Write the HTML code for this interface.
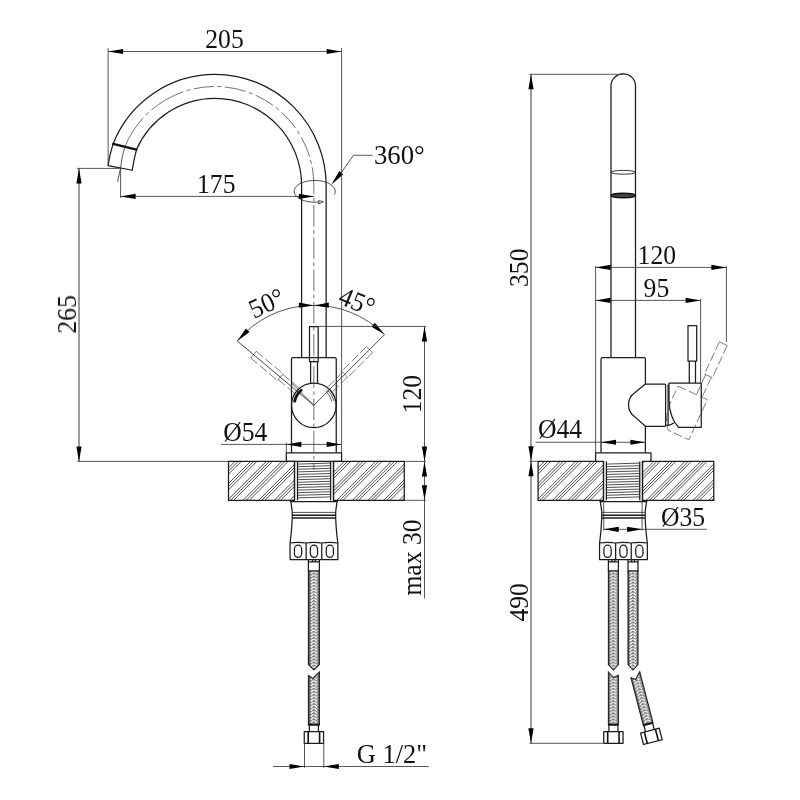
<!DOCTYPE html>
<html><head><meta charset="utf-8"><title>Faucet dimensions</title>
<style>
html,body{margin:0;padding:0;background:#fff;}
svg{display:block;}
text{font-family:"Liberation Serif",serif;fill:#111;}
.o{stroke:#1c1c1c;stroke-width:1.25;fill:none;stroke-linecap:butt;stroke-linejoin:round;}
.of{stroke:#1c1c1c;stroke-width:1.25;fill:#fff;stroke-linejoin:round;}
.t{stroke:#111;stroke-width:2.2;fill:none;stroke-linecap:round;}
.d{stroke:#3a3a3a;stroke-width:0.85;fill:none;}
.dg{stroke:#000;stroke-opacity:0.78;stroke-width:1;fill:none;}
.c{stroke:#333;stroke-width:0.7;fill:none;stroke-dasharray:21.5 3.5 3.75 3.5;}
.g{stroke:#484848;stroke-width:0.65;fill:none;stroke-dasharray:9 3;}
.n2{stroke:#484848;stroke-width:0.65;fill:none;}
.n{stroke:#2a2a2a;stroke-width:0.8;fill:none;}
.h{stroke:#222;stroke-width:0.8;fill:none;}
.th{stroke:#3c3c3c;stroke-width:0.9;fill:none;}
.a{fill:#000;stroke:none;}
</style></head><body>
<svg width="800" height="800" viewBox="0 0 800 800">
<rect width="800" height="800" fill="#fff"/>
<defs>
<pattern id="br" patternUnits="userSpaceOnUse" x="-6" y="0" width="12" height="3.07"><rect width="12" height="3.07" fill="#787878"/><rect width="2.0" height="3.07" fill="#5a5a5a"/><rect x="10.4" width="1.6" height="3.07" fill="#5a5a5a"/><path d="M2.7 2.75L5.6 0.35M2.7 5.82L5.6 3.42M2.7 -0.32L5.6 -2.72M6.4 0.35L9.1 2.75M6.4 3.42L9.1 5.82M6.4 -2.72L9.1 -0.32" stroke="#fff" stroke-width="1.4" fill="none"/><circle cx="9.9" cy="0.9" r="0.6" fill="#fff"/></pattern>
</defs>
<clipPath id="h1"><rect x="228.5" y="461.4" width="66" height="38.9"/></clipPath>
<path class="h" clip-path="url(#h1)" d="M196.1 500.3L235 461.4M199.23 500.3L238.13 461.4M202.36 500.3L241.26 461.4M211.73 500.3L250.63 461.4M214.86 500.3L253.76 461.4M217.99 500.3L256.89 461.4M227.36 500.3L266.26 461.4M230.49 500.3L269.39 461.4M233.62 500.3L272.52 461.4M242.99 500.3L281.89 461.4M246.12 500.3L285.02 461.4M249.25 500.3L288.15 461.4M258.62 500.3L297.52 461.4M261.75 500.3L300.65 461.4M264.88 500.3L303.78 461.4M274.25 500.3L313.15 461.4M277.38 500.3L316.28 461.4M280.51 500.3L319.41 461.4M289.88 500.3L328.78 461.4M293.01 500.3L331.91 461.4"/>
<clipPath id="h2"><rect x="333.5" y="461.4" width="70.8" height="38.9"/></clipPath>
<path class="h" clip-path="url(#h2)" d="M296.14 500.3L335.04 461.4M305.51 500.3L344.41 461.4M308.64 500.3L347.54 461.4M311.77 500.3L350.67 461.4M321.14 500.3L360.04 461.4M324.27 500.3L363.17 461.4M327.4 500.3L366.3 461.4M336.77 500.3L375.67 461.4M339.9 500.3L378.8 461.4M343.03 500.3L381.93 461.4M352.4 500.3L391.3 461.4M355.53 500.3L394.43 461.4M358.66 500.3L397.56 461.4M368.03 500.3L406.93 461.4M371.16 500.3L410.06 461.4M374.29 500.3L413.19 461.4M383.66 500.3L422.56 461.4M386.79 500.3L425.69 461.4M389.92 500.3L428.82 461.4M399.29 500.3L438.19 461.4M402.42 500.3L441.32 461.4"/>
<rect class="o" x="228.5" y="461.4" width="66" height="38.9"/>
<rect class="o" x="333.5" y="461.4" width="70.8" height="38.9"/>
<path class="th" d="M297.5 464.1L330.6 463.1M297.5 466.7L330.6 465.7M297.5 469.3L330.6 468.3M297.5 471.9L330.6 470.9M297.5 474.5L330.6 473.5M297.5 477.1L330.6 476.1M297.5 479.7L330.6 478.7M297.5 482.3L330.6 481.3M297.5 484.9L330.6 483.9M297.5 487.5L330.6 486.5M297.5 490.1L330.6 489.1M297.5 492.7L330.6 491.7M297.5 495.3L330.6 494.3M297.5 497.9L330.6 496.9"/>
<line class="o" x1="294.5" y1="461.4" x2="294.5" y2="500.3"/>
<line class="o" x1="297.5" y1="461.4" x2="297.5" y2="500.3"/>
<line class="o" x1="330.6" y1="461.4" x2="330.6" y2="500.3"/>
<line class="o" x1="333.5" y1="461.4" x2="333.5" y2="500.3"/>
<path class="o" d="M326.15 357.5V185.4A111.15 111.15 0 0 0 215 74.4A109.45 109.45 0 0 0 113.1 143.9Q109.6 154.5 108.1 165.6L132.25 170.25Q133.8 159.5 136.5 149.6A85.8 85.8 0 0 1 215 98.4A86.6 87 0 0 1 301.6 185.4V357.5"/>
<line class="t" x1="113.1" y1="143.9" x2="136.5" y2="149.6"/>
<path class="c" d="M124.8 146.75A97.64 97.64 0 0 1 215 86.5A98.85 98.9 0 0 1 313.85 185.4" style="stroke-dasharray:34.7 3.5 4 3.5 36.85 3.5 4 3.5 20.25 3.5 4 3.5 21.1 3.5 4 3.5 19.85 3.5 4 3.5 20.95 3.5 4 3.5 21 3.5 4 3.5 30"/>
<path class="n" d="M124.8 146.75Q121.6 157 120.6 168L117.5 181.9"/>
<line class="c" x1="313.85" y1="185.4" x2="313.85" y2="469.7" style="stroke-dashoffset:12.6"/>
<path class="o" d="M291.5 452.8V359Q291.5 357.5 293 357.5H334.75Q336.25 357.5 336.25 359V452.8"/>
<rect class="o" x="286.3" y="452.8" width="55.3" height="8.6"/>
<circle class="o" cx="313.85" cy="405.3" r="22.3"/>
<rect class="o" x="309.5" y="326.5" width="8.7" height="35"/>
<path class="o" d="M310.6 361.5V383.3M317.5 361.5V383.3"/>
<g transform="rotate(-50 313.85 405.3)">
<path class="g" d="M309.5 326.5V361.5M318.2 326.5V361.5M310.7 361.5V385M317.6 361.5V385"/>
<path class="n2" d="M309.5 326.5H318.2M309.5 361.5H318.2"/>
<line class="n" x1="313.85" y1="405.3" x2="313.85" y2="305.3"/>
</g>
<g transform="rotate(45 313.85 405.3)">
<path class="g" d="M309.5 326.5V361.5M318.2 326.5V361.5M310.7 361.5V385M317.6 361.5V385"/>
<path class="n2" d="M309.5 326.5H318.2M309.5 361.5H318.2"/>
<line class="n" x1="313.85" y1="405.3" x2="313.85" y2="305.3"/>
</g>
<line class="n" x1="313.85" y1="405.3" x2="291.72" y2="383.17"/>
<path class="t" style="stroke-width:2.8" d="M301.25 390.29A19.6 19.6 0 0 0 294.68 401.22"/>
<path class="n" d="M325.68 391.2A18.4 18.4 0 0 1 331.85 401.47"/>
<path class="n" d="M327.09 389.52A20.6 20.6 0 0 1 334 401.02"/>
<path class="d" d="M237.25 341.02A100 100 0 0 1 384.56 334.59"/>
<path class="a" d="M237.25 341.02L245.86 328.47L249.58 332.1Z"/>
<path class="a" d="M384.56 334.59L371.49 326.78L374.88 322.84Z"/>
<path class="a" d="M313.85 305.5L298.78 307.65L298.93 302.45Z"/>
<path class="a" d="M313.85 305.5L328.77 302.45L328.92 307.65Z"/>
<path class="n" d="M334.4 194.5A20.6 10.9 0 1 0 313 202.2"/>
<path class="n" d="M313 202.2H319L318.3 200.6L323.5 201.6L318.6 203.9L319 202.2"/>
<path class="d" d="M372.75 155.3H353.5L341.3 172.5"/>
<path class="a" d="M331.3 184.8L339.25 170.9L343.28 174.18Z"/>
<line class="d" x1="108.1" y1="48" x2="108.1" y2="165.6"/>
<line class="d" x1="341.6" y1="48" x2="341.6" y2="452.8"/>
<line class="d" x1="108.1" y1="51.5" x2="341.6" y2="51.5"/>
<path class="a" d="M108.1 51.5L123.1 48.9L123.1 54.1Z"/>
<path class="a" d="M341.6 51.5L326.6 54.1L326.6 48.9Z"/>
<line class="d" x1="120.6" y1="168" x2="120.6" y2="198"/>
<line class="d" x1="120.6" y1="196.4" x2="313.85" y2="196.4"/>
<path class="a" d="M120.6 196.4L135.6 193.8L135.6 199Z"/>
<path class="a" d="M313.85 196.4L298.85 199L298.85 193.8Z"/>
<line class="d" x1="77.2" y1="168.4" x2="120.6" y2="168.4"/>
<line class="d" x1="77.5" y1="461.4" x2="228.5" y2="461.4"/>
<line class="dg" x1="79" y1="168.4" x2="79" y2="461.4"/>
<path class="a" d="M79 168.4L81.6 183.4L76.4 183.4Z"/>
<path class="a" d="M79 461.4L76.4 446.4L81.6 446.4Z"/>
<line class="d" x1="318.1" y1="326.4" x2="426" y2="326.4"/>
<line class="d" x1="404.3" y1="461.4" x2="426" y2="461.4"/>
<line class="d" x1="404.3" y1="500.3" x2="426" y2="500.3"/>
<line class="d" x1="424.5" y1="326.4" x2="424.5" y2="598.5"/>
<path class="a" d="M424.5 326.4L427.1 341.4L421.9 341.4Z"/>
<path class="a" d="M424.5 461.4L421.9 446.4L427.1 446.4Z"/>
<path class="a" d="M424.5 461.4L427.1 476.4L421.9 476.4Z"/>
<path class="a" d="M424.5 500.3L421.9 485.3L427.1 485.3Z"/>
<line class="d" x1="286.3" y1="442.6" x2="286.3" y2="452.8"/>
<line class="d" x1="221" y1="444.4" x2="341.6" y2="444.4"/>
<path class="a" d="M286.3 444.4L301.3 441.8L301.3 447Z"/>
<path class="a" d="M341.6 444.4L326.6 447L326.6 441.8Z"/>
<g transform="translate(313.95 0)">
<path class="o" d="M-24.2 500.3L-23.1 501.6L-21.7 511.6M24.2 500.3L23.1 501.6L21.7 511.6M-23.1 501.6H23.1"/>
<path class="n" d="M-21.3 512.4H21.3"/>
<path class="o" style="stroke-width:1.5" d="M-21.5 515.2H21.5M-21.5 518.1H21.5"/>
<path class="o" d="M-21.7 511.6V518.1Q-22 521 -22 524Q-22.6 534 -23.9 543V559.6H23.9V543Q22.6 534 22 524Q22 521 21.7 518.1V511.6"/>
<path class="o" d="M-23.9 543Q-16 541.6 -7.8 543Q0 541.6 7.8 543Q16 541.6 23.9 543M-7.8 543V559.6M7.8 543V559.6"/>
<rect class="o" x="-19.5" y="545.2" width="7.2" height="12.2" rx="3.6" ry="3.8"/>
<rect class="o" x="-3.6" y="545.2" width="7.2" height="12.2" rx="3.6" ry="3.8"/>
<rect class="o" x="12.3" y="545.2" width="7.2" height="12.2" rx="3.6" ry="3.8"/>
</g>
<g transform="translate(313.9 0)">
<path class="o" d="M-5.5 559.6V571H5.5V559.6M-5.5 561.8H5.5M-1.4 559.6V561.8M1.4 559.6V561.8"/>
<path d="M-5.5 571H5.5V664.5L0 670L-5.5 664.5Z" fill="url(#br)" stroke="#222" stroke-width="1.1"/>
</g>
<g transform="translate(313.9 674) rotate(0)">
<path d="M-5.5 1.5L-1 4.5L5.5 -2V51H-5.5Z" fill="url(#br)" stroke="#222" stroke-width="1.1"/>
<path d="M-5.5 50.6H5.5" stroke="#111" stroke-width="1.8" fill="none"/>
<path class="o" d="M-4.5 51V57.5M4.5 51V57.5"/>
<rect class="of" x="-9.65" y="57.5" width="19.3" height="11.8"/>
<path class="t" style="stroke-width:1.6;stroke-linecap:butt" d="M-5.7 57.5V69.3M5.7 57.5V69.3"/>
</g>
<line class="d" x1="304.5" y1="743.3" x2="304.5" y2="767.8"/>
<line class="d" x1="323.8" y1="743.3" x2="323.8" y2="767.8"/>
<line class="d" x1="273" y1="766.5" x2="428.75" y2="766.5"/>
<path class="a" d="M304.5 766.5L289.5 769.1L289.5 763.9Z"/>
<path class="a" d="M323.8 766.5L338.8 763.9L338.8 769.1Z"/>
<clipPath id="h3"><rect x="538.1" y="461.4" width="65.4" height="39"/></clipPath>
<path class="h" clip-path="url(#h3)" d="M505.5 500.4L544.5 461.4M508.63 500.4L547.63 461.4M511.76 500.4L550.76 461.4M521.13 500.4L560.13 461.4M524.26 500.4L563.26 461.4M527.39 500.4L566.39 461.4M536.76 500.4L575.76 461.4M539.89 500.4L578.89 461.4M543.02 500.4L582.02 461.4M552.39 500.4L591.39 461.4M555.52 500.4L594.52 461.4M558.65 500.4L597.65 461.4M568.02 500.4L607.02 461.4M571.15 500.4L610.15 461.4M574.28 500.4L613.28 461.4M583.65 500.4L622.65 461.4M586.78 500.4L625.78 461.4M589.91 500.4L628.91 461.4M599.28 500.4L638.28 461.4M602.41 500.4L641.41 461.4"/>
<clipPath id="h4"><rect x="642.5" y="461.4" width="71.3" height="39"/></clipPath>
<path class="h" clip-path="url(#h4)" d="M605.54 500.4L644.54 461.4M614.91 500.4L653.91 461.4M618.04 500.4L657.04 461.4M621.17 500.4L660.17 461.4M630.54 500.4L669.54 461.4M633.67 500.4L672.67 461.4M636.8 500.4L675.8 461.4M646.17 500.4L685.17 461.4M649.3 500.4L688.3 461.4M652.43 500.4L691.43 461.4M661.8 500.4L700.8 461.4M664.93 500.4L703.93 461.4M668.06 500.4L707.06 461.4M677.43 500.4L716.43 461.4M680.56 500.4L719.56 461.4M683.69 500.4L722.69 461.4M693.06 500.4L732.06 461.4M696.19 500.4L735.19 461.4M699.32 500.4L738.32 461.4M708.69 500.4L747.69 461.4M711.82 500.4L750.82 461.4"/>
<rect class="o" x="538.1" y="461.4" width="65.4" height="39"/>
<rect class="o" x="642.5" y="461.4" width="71.3" height="39"/>
<path class="th" d="M606.4 464.1L639.75 463.1M606.4 466.7L639.75 465.7M606.4 469.3L639.75 468.3M606.4 471.9L639.75 470.9M606.4 474.5L639.75 473.5M606.4 477.1L639.75 476.1M606.4 479.7L639.75 478.7M606.4 482.3L639.75 481.3M606.4 484.9L639.75 483.9M606.4 487.5L639.75 486.5M606.4 490.1L639.75 489.1M606.4 492.7L639.75 491.7M606.4 495.3L639.75 494.3M606.4 497.9L639.75 496.9"/>
<line class="o" x1="603.5" y1="461.4" x2="603.5" y2="500.4"/>
<line class="o" x1="606.4" y1="461.4" x2="606.4" y2="500.4"/>
<line class="o" x1="639.75" y1="461.4" x2="639.75" y2="500.4"/>
<line class="o" x1="642.5" y1="461.4" x2="642.5" y2="500.4"/>
<path class="o" d="M611 357.6V86.05A12.25 12.25 0 0 1 635.5 86.05V357.6"/>
<ellipse class="n" cx="623.25" cy="172.3" rx="12.2" ry="1.9" style="stroke:#222;stroke-width:0.9"/>
<ellipse cx="623.25" cy="195.5" rx="12.2" ry="2.3" fill="#444" stroke="#111" stroke-width="1.5"/>
<path class="o" d="M645.4 384.1V359.1Q645.4 357.6 643.9 357.6H602.5Q601 357.6 601 359.1V452.8M645.4 426.25V452.8"/>
<path class="o" d="M595.6 461.3V452.8H651V461.3"/>
<path class="o" d="M645.4 384.1H664.6Q665.6 384.1 665.6 385.1V425.2Q665.6 426.25 664.6 426.25H645.4L635 416.9A14.7 14.7 0 0 1 635 392.5Z"/>
<path class="o" d="M668.1 384.6V424.4M665.6 425.6Q670.5 425.4 673.9 423"/>
<path class="o" d="M669 383.1H701.25V427.25H678.5C672.5 421 669.3 412 669 400Z"/>
<rect class="of" x="688" y="325.6" width="8.7" height="35.4"/>
<path class="o" d="M689.3 361V383.1M695.5 361V383.1"/>
<g transform="rotate(24.7 666.5 405.2)">
<path class="g" d="M669 383.1H701.25V427.25H678.5C672.5 421 669.3 412 669 400ZM688 325.6V361M696.7 325.6V361M689.3 361V383.1M695.5 361V383.1"/>
<path class="n2" d="M688 325.6H696.7M688 361H696.7"/>
</g>
<g transform="translate(623.45 0)">
<path class="o" d="M-24.2 500.3L-23.1 501.6L-21.7 511.6M24.2 500.3L23.1 501.6L21.7 511.6M-23.1 501.6H23.1"/>
<path class="n" d="M-21.3 512.4H21.3"/>
<path class="o" style="stroke-width:1.5" d="M-21.5 515.2H21.5M-21.5 518.1H21.5"/>
<path class="o" d="M-21.7 511.6V518.1Q-22 521 -22 524Q-22.6 534 -23.9 543V559.6H23.9V543Q22.6 534 22 524Q22 521 21.7 518.1V511.6"/>
<path class="o" d="M-23.9 543Q-16 541.6 -7.8 543Q0 541.6 7.8 543Q16 541.6 23.9 543M-7.8 543V559.6M7.8 543V559.6"/>
<rect class="o" x="-19.5" y="545.2" width="7.2" height="12.2" rx="3.6" ry="3.8"/>
<rect class="o" x="-3.6" y="545.2" width="7.2" height="12.2" rx="3.6" ry="3.8"/>
<rect class="o" x="12.3" y="545.2" width="7.2" height="12.2" rx="3.6" ry="3.8"/>
</g>
<g transform="translate(613.4 0)">
<path class="o" d="M-5 559.6V571H5V559.6M-5 561.8H5M-1.4 559.6V561.8M1.4 559.6V561.8"/>
<path d="M-5 571H5V664.5L0 670L-5 664.5Z" fill="url(#br)" stroke="#222" stroke-width="1.1"/>
</g>
<g transform="translate(633 0)">
<path class="o" d="M-5 559.6V571H5V559.6M-5 561.8H5M-1.4 559.6V561.8M1.4 559.6V561.8"/>
<path d="M-5 571H5V664.5L0 670L-5 664.5Z" fill="url(#br)" stroke="#222" stroke-width="1.1"/>
</g>
<g transform="translate(613.4 674) rotate(0)">
<path d="M-5 -2L0 3.5L5 1.4V51H-5Z" fill="url(#br)" stroke="#222" stroke-width="1.1"/>
<path d="M-5 50.6H5" stroke="#111" stroke-width="1.8" fill="none"/>
<path class="o" d="M-4.5 51V57.5M4.5 51V57.5"/>
<rect class="of" x="-9.65" y="57.5" width="19.3" height="11.8"/>
<path class="t" style="stroke-width:1.6;stroke-linecap:butt" d="M-5.7 57.5V69.3M5.7 57.5V69.3"/>
</g>
<g transform="translate(635.4 675) rotate(-14.6)">
<path d="M-5 1.5L-1 4.5L5 -2V51H-5Z" fill="url(#br)" stroke="#222" stroke-width="1.1"/>
<path d="M-5 50.6H5" stroke="#111" stroke-width="1.8" fill="none"/>
<path class="o" d="M-4.5 51V57.5M4.5 51V57.5"/>
<rect class="of" x="-9.65" y="57.5" width="19.3" height="11.8"/>
<path class="t" style="stroke-width:1.6;stroke-linecap:butt" d="M-5.7 57.5V69.3M5.7 57.5V69.3"/>
</g>
<line class="d" x1="529.5" y1="74.3" x2="623.25" y2="74.3"/>
<line class="d" x1="529.5" y1="461.3" x2="538.1" y2="461.3"/>
<line class="d" x1="529.5" y1="743.3" x2="603.3" y2="743.3"/>
<line class="dg" x1="531" y1="74.3" x2="531" y2="743.3"/>
<path class="a" d="M531 74.3L533.6 89.3L528.4 89.3Z"/>
<path class="a" d="M531 461.3L528.4 446.3L533.6 446.3Z"/>
<path class="a" d="M531 461.3L533.6 476.3L528.4 476.3Z"/>
<path class="a" d="M531 743.3L528.4 728.3L533.6 728.3Z"/>
<line class="d" x1="595.6" y1="266" x2="595.6" y2="452.8"/>
<line class="d" x1="726.4" y1="266" x2="726.4" y2="342"/>
<line class="d" x1="700.6" y1="299" x2="700.6" y2="384"/>
<line class="d" x1="595.6" y1="267.4" x2="726.4" y2="267.4"/>
<line class="d" x1="595.6" y1="300.4" x2="700.6" y2="300.4"/>
<path class="a" d="M595.6 267.4L610.6 264.8L610.6 270Z"/>
<path class="a" d="M726.4 267.4L711.4 270L711.4 264.8Z"/>
<path class="a" d="M595.6 300.4L610.6 297.8L610.6 303Z"/>
<path class="a" d="M700.6 300.4L685.6 303L685.6 297.8Z"/>
<line class="d" x1="535.6" y1="442.25" x2="645.4" y2="442.25"/>
<path class="a" d="M601 442.25L616 439.65L616 444.85Z"/>
<path class="a" d="M645.4 442.25L630.4 444.85L630.4 439.65Z"/>
<line class="d" x1="603.75" y1="500.4" x2="603.75" y2="530.5"/>
<line class="d" x1="642.1" y1="500.4" x2="642.1" y2="530.5"/>
<line class="d" x1="603.75" y1="529.3" x2="706.8" y2="529.3"/>
<path class="a" d="M603.75 529.3L618.75 526.7L618.75 531.9Z"/>
<path class="a" d="M642.1 529.3L627.1 531.9L627.1 526.7Z"/>
<g opacity="0.999">
<text transform="translate(254.1 318.9) rotate(-25) scale(0.95 1)" font-size="27" text-anchor="start">50°</text>
<text transform="translate(337.1 302.9) rotate(22.5) scale(0.95 1)" font-size="27" text-anchor="start">45°</text>
<text transform="translate(374 164.3) scale(0.99 1)" font-size="27" text-anchor="start">360°</text>
<text transform="translate(205.3 48.2) scale(0.95 1)" font-size="27" text-anchor="start">205</text>
<text transform="translate(197 193.1) scale(0.95 1)" font-size="27" text-anchor="start">175</text>
<text transform="translate(76 333.6) rotate(-90) scale(0.95 1)" font-size="27" text-anchor="start">265</text>
<text transform="translate(421.3 413.3) rotate(-90) scale(0.95 1)" font-size="27" text-anchor="start">120</text>
<text transform="translate(421.4 595.6) rotate(-90) scale(0.95 1)" font-size="27" text-anchor="start">max 30</text>
<text transform="translate(223.2 440.8) scale(0.95 1)" font-size="27" text-anchor="start">Ø54</text>
<text transform="translate(356.7 763.1) scale(0.98 1)" font-size="27" text-anchor="start">G 1/2"</text>
<text transform="translate(527.8 287) rotate(-90) scale(0.95 1)" font-size="27" text-anchor="start">350</text>
<text transform="translate(527.8 621.6) rotate(-90) scale(0.95 1)" font-size="27" text-anchor="start">490</text>
<text transform="translate(637.6 263.6) scale(0.95 1)" font-size="27" text-anchor="start">120</text>
<text transform="translate(643.6 297) scale(0.95 1)" font-size="27" text-anchor="start">95</text>
<text transform="translate(538 437.9) scale(0.95 1)" font-size="27" text-anchor="start">Ø44</text>
<text transform="translate(661 525.5) scale(0.95 1)" font-size="27" text-anchor="start">Ø35</text>
</g>
</svg>
</body></html>
